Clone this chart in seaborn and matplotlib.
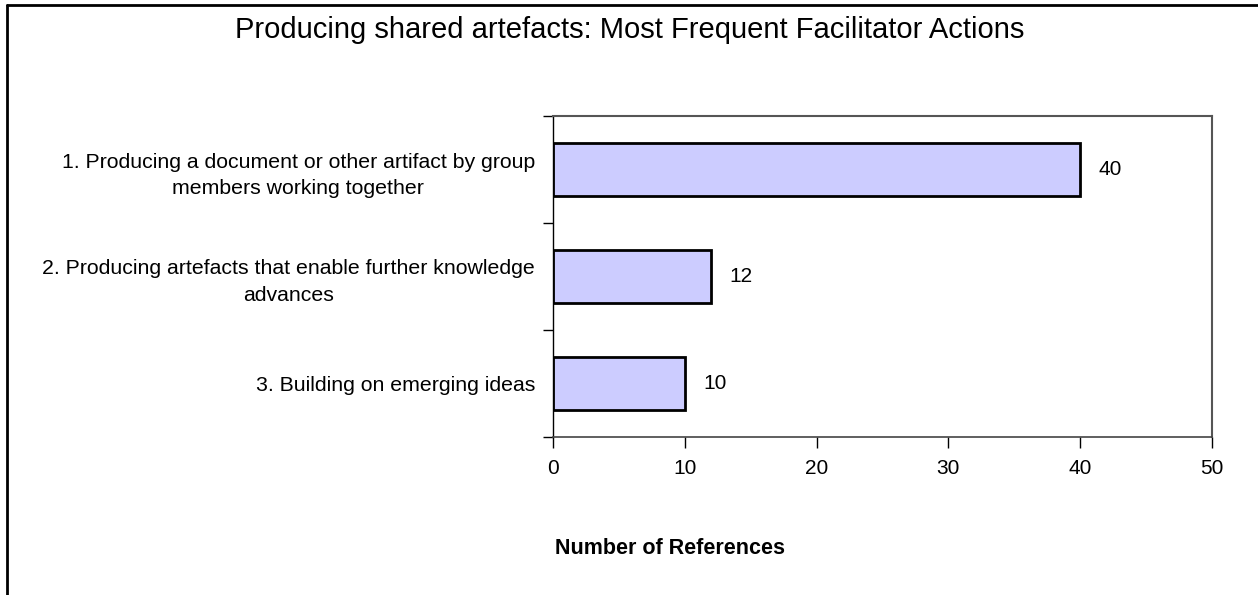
import matplotlib
matplotlib.use("Agg")
import matplotlib.pyplot as plt
import seaborn as sns
import pandas as pd
from matplotlib.lines import Line2D
from matplotlib.ticker import FixedLocator

categories = [
    "1. Producing a document or other artifact by group\nmembers working together",
    "2. Producing artefacts that enable further knowledge\nadvances",
    "3. Building on emerging ideas",
]
values = [40, 12, 10]
x_ticks = [0, 10, 20, 30, 40, 50]

title = "Producing shared artefacts: Most Frequent Facilitator Actions"
x_label = "Number of References"

sns.set_theme(style="white")
plt.rcParams['font.family'] = ['Liberation Sans', 'DejaVu Sans']
plt.rcParams['text.color'] = 'black'
plt.rcParams['xtick.color'] = 'black'
plt.rcParams['ytick.color'] = 'black'
plt.rcParams['axes.labelcolor'] = 'black'

W, H = 1258, 595
fig = plt.figure(figsize=(W / 100, H / 100), dpi=100)
ax = fig.add_axes([553 / W, 1 - 437 / H, (1212 - 553) / W, (437 - 116) / H])

df = pd.DataFrame({"cat": categories, "val": values})
sns.barplot(data=df, y="cat", x="val", ax=ax, orient="h", color="#CCCCFF",
            edgecolor="black", linewidth=2, width=0.5, saturation=1)

ax.set_xlim(0, 50)
ax.set_ylim(2.5, -0.5)
ax.set_xticks(x_ticks)
ax.set_xticklabels([str(t) for t in x_ticks], fontsize=15)
ax.set_yticklabels(categories, fontsize=15.3, multialignment="center", linespacing=1.5)
ax.tick_params(axis="y", length=0, pad=13)
ax.yaxis.set_minor_locator(FixedLocator([-0.5, 0.5, 1.5, 2.5]))
ax.tick_params(axis="y", which="minor", length=7, width=1, color="black", left=True)
ax.tick_params(axis="x", length=8, width=1, color="black", bottom=True, pad=8)

for s in ["top", "right"]:
    ax.spines[s].set_color("#555555")
    ax.spines[s].set_linewidth(1.5)
ax.spines["left"].set_color("black")
ax.spines["left"].set_linewidth(1)
ax.spines["bottom"].set_color("#444444")
ax.spines["bottom"].set_linewidth(1.2)

for i, v in enumerate(values):
    ax.text(v + 1.4, i, str(v), va="center", ha="left", fontsize=15)

ax.set_ylabel("")
ax.set_xlabel(x_label, fontsize=15.5, fontweight="bold")
ax.xaxis.set_label_coords((670 - 553) / (1212 - 553), (437 - 548) / (437 - 116))
ax.xaxis.label.set_va("center")

fig.text(630 / W, 1 - 30 / H, title, ha="center", va="center", fontsize=21)

fig.add_artist(Line2D([7 / W, 1], [1 - 5 / H, 1 - 5 / H], color="black", lw=2, transform=fig.transFigure))
fig.add_artist(Line2D([7 / W, 7 / W], [0, 1 - 5 / H], color="black", lw=2, transform=fig.transFigure))

fig.savefig("out.png", dpi=100)
